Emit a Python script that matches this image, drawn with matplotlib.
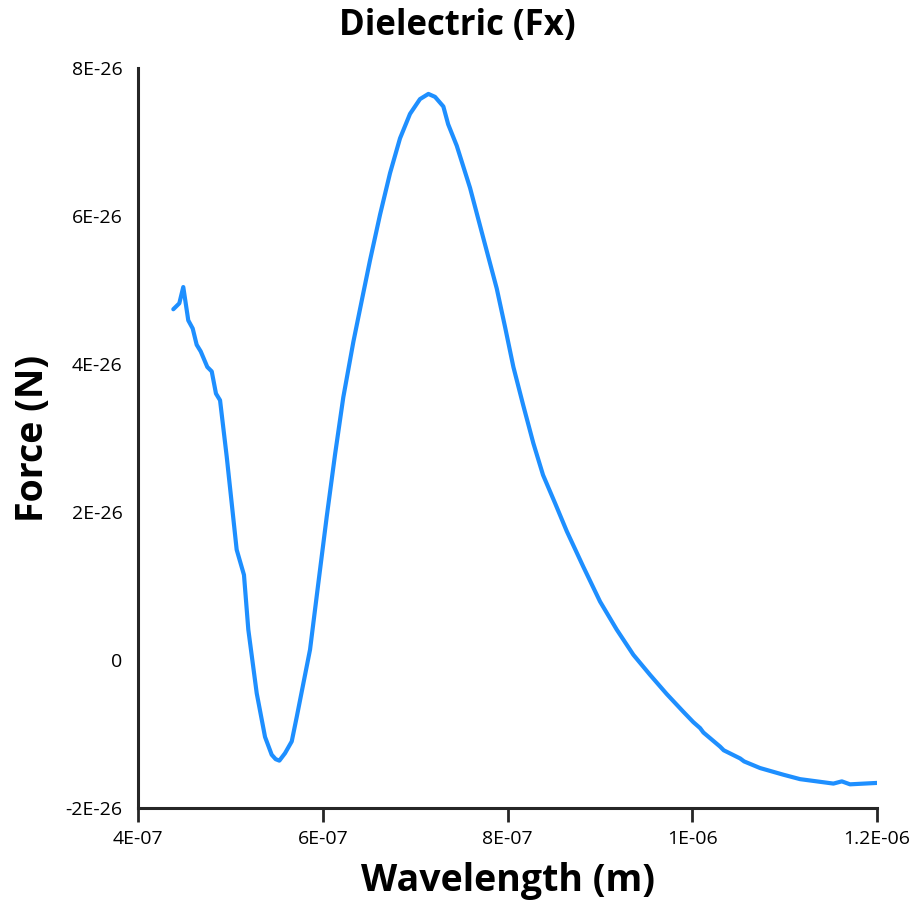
import numpy as np
import matplotlib
matplotlib.use("Agg")
import matplotlib.pyplot as plt

# ==================================
# DATA
# ==================================
wavelength_nm = [438.2, 444.7, 449.0, 454.4, 459.2, 463.5, 467.9, 475.0, 479.8,
                 484.4, 488.8, 496.0, 506.8, 514.7, 519.4, 528.5, 537.5, 544.7,
                 549.0, 553.0, 559.1, 566.4, 571.8, 586.2, 595.2, 604.3, 613.3,
                 622.2, 633.1, 643.2, 651.1, 662.0, 672.8, 683.6, 694.4, 705.2,
                 714.3, 721.5, 730.5, 735.7, 745.0, 759.4, 773.8, 788.3, 797.3,
                 806.3, 816.8, 827.9, 838.4, 851.4, 864.1, 882.0, 900.1, 918.2,
                 936.2, 954.2, 972.3, 990.3, 1001.1, 1008.4, 1012.0, 1030.0,
                 1034.0, 1051.7, 1056.0, 1073.3, 1098.5, 1116.6, 1152.7, 1161.8,
                 1170.7, 1201.4]

force_e26 = [4.74, 4.82, 5.04, 4.59, 4.48, 4.26, 4.17, 3.96, 3.90,
             3.60, 3.51, 2.75, 1.49, 1.15, 0.41, -0.45, -1.04, -1.28,
             -1.34, -1.36, -1.26, -1.10, -0.77, 0.14, 1.04, 1.94, 2.78,
             3.55, 4.30, 4.92, 5.40, 6.02, 6.58, 7.05, 7.38, 7.58,
             7.65, 7.61, 7.48, 7.24, 6.95, 6.38, 5.70, 5.02, 4.50,
             3.96, 3.45, 2.93, 2.50, 2.12, 1.74, 1.26, 0.79, 0.41,
             0.07, -0.20, -0.46, -0.70, -0.84, -0.92, -0.98, -1.17,
             -1.22, -1.33, -1.37, -1.46, -1.55, -1.61, -1.67, -1.64,
             -1.68, -1.66]

x_ticks = [4e-7, 6e-7, 8e-7, 1e-6, 1.2e-6]
x_tick_labels = ["4E-07", "6E-07", "8E-07", "1E-06", "1.2E-06"]
y_ticks = [-2e-26, 0, 2e-26, 4e-26, 6e-26, 8e-26]
y_tick_labels = ["-2E-26", "0", "2E-26", "4E-26", "6E-26", "8E-26"]

x = np.array(wavelength_nm) * 1e-9
y = np.array(force_e26) * 1e-26

# ==================================
# PLOT
# ==================================
plt.rcParams["font.family"] = ["Open Sans", "DejaVu Sans"]

fig = plt.figure(figsize=(9.17, 9.13), dpi=100)
ax = fig.add_axes([0.1505, 0.115, 0.806, 0.8105])

ax.plot(x, y, color="#1E8FFF", linewidth=3.0, solid_joinstyle="round",
        solid_capstyle="round")

ax.set_xlim(4e-7, 1.2e-6)
ax.set_ylim(-2e-26, 8e-26)
ax.set_xticks(x_ticks)
ax.set_xticklabels(x_tick_labels)
ax.set_yticks(y_ticks)
ax.set_yticklabels(y_tick_labels)

for side in ["top", "right"]:
    ax.spines[side].set_visible(False)
for side in ["left", "bottom"]:
    ax.spines[side].set_linewidth(2.2)
    ax.spines[side].set_color("#262626")

ax.tick_params(axis="x", direction="out", length=10, width=2, color="#262626",
               labelsize=14, pad=6)
ax.tick_params(axis="y", length=0, labelsize=14, pad=11)

ax.set_xlabel("Wavelength (m)", fontsize=27, fontweight="bold", labelpad=10)
ax.set_ylabel("Force (N)", fontsize=27, fontweight="bold", labelpad=10)
fig.text(0.499, 0.972, "Dielectric (Fx)", fontsize=25, fontweight="bold",
         ha="center", va="center")

fig.savefig("out.png", dpi=100, facecolor="white")
